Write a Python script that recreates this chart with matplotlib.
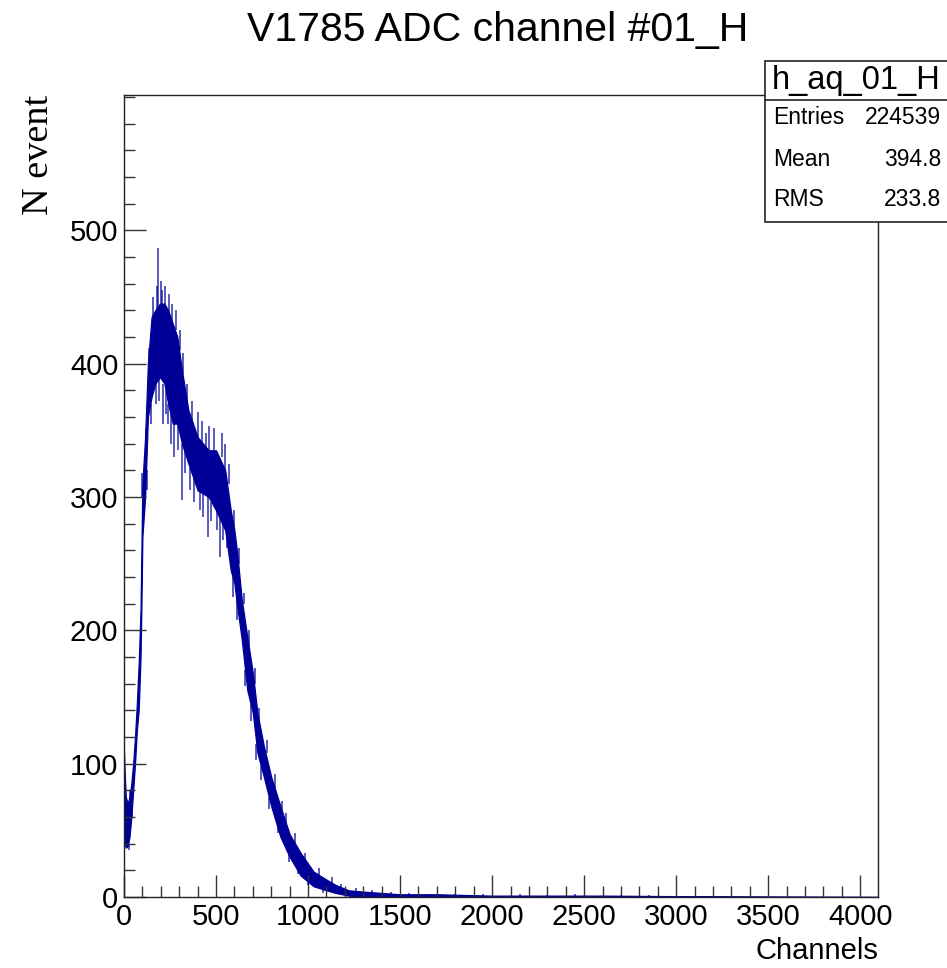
import numpy as np
import matplotlib
matplotlib.use("Agg")
import matplotlib.pyplot as plt
from matplotlib.patches import Rectangle
from matplotlib.lines import Line2D
from matplotlib.ticker import MultipleLocator, FixedLocator

plt.rcParams['font.family'] = ['Liberation Sans', 'DejaVu Sans']

# h_aq_01_H: band of bin contents (lowest / highest) along the ADC channels
channel = [0, 3, 10, 20, 30, 40, 50, 60, 70, 80, 90, 95, 100, 115, 130, 150,
           170, 195, 220, 240, 265, 290, 315, 350, 400, 460, 500, 550, 580,
           600, 615, 640, 670, 700, 725, 760, 800, 850, 900, 960, 1030, 1100,
           1150, 1220, 1300, 1400, 1500, 1700, 2000, 2300, 2600, 3000, 3500, 4096]
low = [45, 40, 37, 38, 45, 60, 80, 100, 125, 140, 180, 220, 270, 300, 360, 375,
       385, 390, 385, 370, 355, 355, 340, 325, 305, 300, 290, 275, 245,
       235, 218, 193, 155, 138, 108, 90, 68, 45, 30, 16, 8, 5,
       3, 1, 0, 0, 0, 0, 0, 0, 0, 0, 0, 0]
high = [108, 95, 75, 70, 75, 85, 100, 120, 145, 175, 215, 260, 310, 345, 400, 435,
        440, 445, 445, 440, 430, 420, 395, 365, 345, 335, 335, 320, 290,
        275, 258, 223, 195, 168, 138, 113, 90, 68, 47, 33, 19, 13,
        9, 5, 4, 3, 2, 2, 1, 1, 1, 0.6, 0.3, 0]

# single bins reaching out of the band: channel, band edge, bin content
spike_ch = [25, 35, 45, 100, 108, 120, 125, 138, 145, 158, 172, 180, 186, 193,
            199, 205, 213, 222, 230, 240, 247, 256, 262, 272, 281, 295, 305,
            315, 322, 333, 345, 358, 370, 382, 400, 412, 425, 430, 445, 455,
            460, 475, 490, 505, 520, 530, 540, 551, 562, 572, 590, 600, 612,
            625, 650, 660, 680, 690, 710, 718, 735, 745, 775, 790, 820, 835,
            860, 880, 895, 930, 945, 985, 1000, 1060, 1080, 1130, 1180, 1260,
            1350, 1450, 1550, 1650, 1800, 1950, 2150, 2300, 2450, 2700, 2850]
spike_from = [40, 70, 70, 300, 305, 330, 320, 390, 370, 435, 390, 440, 440, 395,
              445, 445, 385, 445, 380, 370, 438, 365, 432, 358, 425, 355, 410,
              340, 392, 335, 370, 322, 355, 315, 345, 305, 340, 305, 335, 300,
              335, 296, 335, 290, 290, 330, 282, 320, 280, 310, 240, 275, 225,
              250, 220, 170, 188, 145, 160, 115, 132, 98, 108, 75, 80, 55,
              65, 55, 32, 40, 22, 25, 13, 15, 6, 10, 7, 3,
              3, 2, 0, 0, 0, 0, 0, 0, 0, 0, 0]
spike_to = [35, 80, 60, 318, 290, 352, 305, 412, 355, 450, 370, 458, 487, 372,
            462, 455, 355, 458, 362, 355, 452, 340, 445, 330, 440, 335, 425,
            298, 408, 318, 385, 305, 372, 296, 364, 290, 357, 285, 348, 270,
            353, 282, 352, 275, 255, 348, 268, 340, 262, 325, 225, 290, 208,
            262, 228, 158, 200, 132, 172, 103, 142, 88, 118, 66, 92, 48,
            72, 63, 26, 48, 17, 33, 9, 22, 3, 15, 10, 7,
            5, 4, 3, 2, 2, 2, 2, 1.5, 2, 1.5, 1.5]

entries = 224539
mean = 394.8
rms = 233.8

navy = '#000099'

fig = plt.figure(figsize=(9.47, 9.68), dpi=100)
ax = fig.add_axes([0.1309, 0.0734, 0.7962, 0.8285])

ax.fill_between(channel, low, high, color=navy, edgecolor=navy, linewidth=0.9)
ax.vlines(spike_ch, spike_from, spike_to, color=navy, linewidth=1.4, alpha=0.65)

ax.set_xlim(0, 4096)
ax.set_ylim(0, 601.5)

ax.xaxis.set_major_locator(MultipleLocator(500))
ax.xaxis.set_minor_locator(MultipleLocator(100))
ax.yaxis.set_major_locator(FixedLocator([0, 100, 200, 300, 400, 500]))
ax.yaxis.set_minor_locator(FixedLocator(np.arange(20, 601, 20)))
ax.tick_params(which='both', direction='in', colors='#333333', labelcolor='black',
               labelsize=21, width=1.0)
ax.tick_params(which='major', length=16, pad=4)
ax.tick_params(which='minor', length=8)
for s in ax.spines.values():
    s.set_linewidth(1.0)
    s.set_color('#222222')

ax.set_xlabel('Channels', fontsize=21, loc='right', labelpad=5)
fig.text(0.041, 0.902, 'N event', rotation=90, ha='center', va='top',
         fontsize=27.5, family=['Liberation Serif', 'DejaVu Serif'])

fig.text(0.526, 0.969, 'V1785 ADC channel #01_H', ha='center', va='center',
         fontsize=29.5)

# statistics box in the top right corner
x0, y0 = 765 / 947, 1 - 222 / 968
fig.add_artist(Rectangle((x0, y0), 0.3, (222 - 61) / 968, transform=fig.transFigure,
                         facecolor='white', edgecolor='#222222', linewidth=1.2,
                         zorder=5))
fig.add_artist(Line2D([x0, 1.0], [1 - 100 / 968] * 2, transform=fig.transFigure,
                      color='#222222', linewidth=1.2, zorder=6))
fig.text((765 + 947) / 2 / 947, 1 - 80 / 968, 'h_aq_01_H', ha='center',
         va='center', fontsize=23.5, zorder=7)
rows = [('Entries', f'{entries}'), ('Mean', f'{mean:.1f}'), ('RMS', f'{rms:.1f}')]
for (name, val), yy in zip(rows, [118, 160, 200]):
    fig.text(773 / 947, 1 - yy / 968, name, ha='left', va='center',
             fontsize=16.5, zorder=7)
    fig.text(941 / 947, 1 - yy / 968, val, ha='right', va='center',
             fontsize=16.5, zorder=7)

fig.savefig('out.png', dpi=100)
